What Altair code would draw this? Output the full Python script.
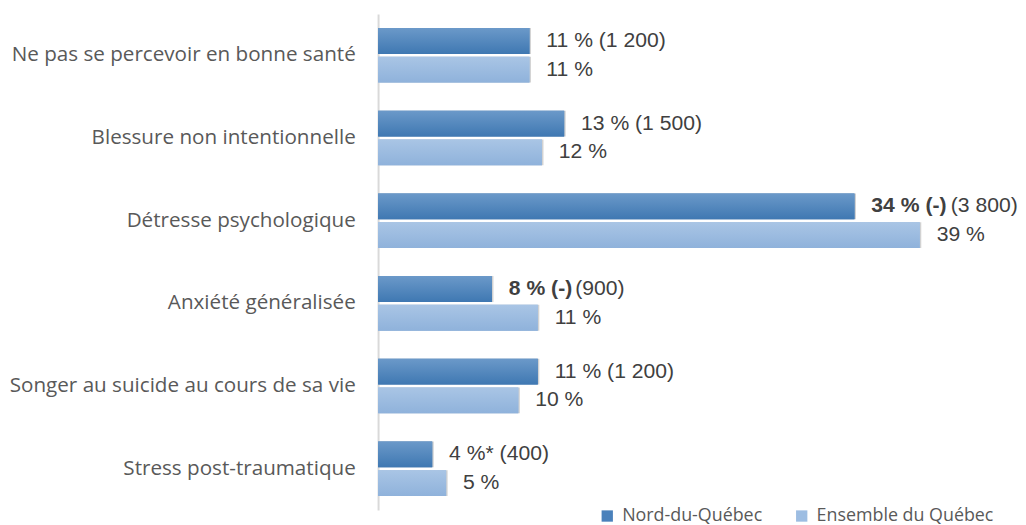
import altair as alt
import pandas as pd

categories = [
    "Ne pas se percevoir en bonne santé",
    "Blessure non intentionnelle",
    "Détresse psychologique",
    "Anxiété généralisée",
    "Songer au suicide au cours de sa vie",
    "Stress post-traumatique",
]
series = ["Nord-du-Québec", "Ensemble du Québec"]
nord_values = [10.9, 13.4, 34.3, 8.2, 11.5, 3.9]
quebec_values = [10.9, 11.8, 39.0, 11.5, 10.1, 4.9]
nord_bold = ["", "", "34 % (-)", "8 % (-)", "", ""]
nord_plain = ["11 % (1 200)", "13 % (1 500)", "(3 800)", "(900)", "11 % (1 200)", "4 %* (400)"]
quebec_labels = ["11 %", "12 %", "39 %", "11 %", "10 %", "5 %"]

rows = []
for i, c in enumerate(categories):
    rows.append({"cat": c, "serie": series[0], "value": nord_values[i],
                 "bold": nord_bold[i], "plain": nord_plain[i]})
    rows.append({"cat": c, "serie": series[1], "value": quebec_values[i],
                 "bold": "", "plain": quebec_labels[i]})
df = pd.DataFrame(rows)

DARK = "#4a81bb"
LIGHT = "#9dbde2"
dark_grad = alt.Gradient(gradient="linear", x1=0, x2=0, y1=0, y2=1,
                         stops=[alt.GradientStop(color="#6b99c9", offset=0),
                                alt.GradientStop(color="#3f78b2", offset=1)])
light_grad = alt.Gradient(gradient="linear", x1=0, x2=0, y1=0, y2=1,
                          stops=[alt.GradientStop(color="#a9c5e5", offset=0),
                                 alt.GradientStop(color="#8fb2db", offset=1)])

y_enc = alt.Y("cat:N", sort=categories, title=None,
              scale=alt.Scale(paddingInner=0.34, paddingOuter=0.17),
              axis=alt.Axis(ticks=False, labelPadding=23, labelFont="Open Sans",
                            labelFontSize=20.8, labelColor="#595959", labelLimit=400,
                            domainColor="#d9d9d9", domainWidth=2, grid=False))
yoff = alt.YOffset("serie:N", sort=series, scale=alt.Scale(paddingInner=0.1))
x_enc = alt.X("value:Q", scale=alt.Scale(domain=[0, 45], nice=False), axis=None)

base = alt.Chart(df)

shadow = base.mark_bar(color="#7f7f7f", opacity=0.35, xOffset=1.5, yOffset=2.5).encode(
    x=x_enc, y=y_enc, yOffset=yoff)

bars = base.mark_bar().encode(
    x=x_enc, y=y_enc, yOffset=yoff,
    color=alt.Color("serie:N", sort=series, title=None,
                    scale=alt.Scale(domain=series, range=[DARK, LIGHT]),
                    legend=alt.Legend(orient="none", legendX=222, legendY=497,
                                      direction="horizontal", symbolType="square",
                                      symbolSize=130, symbolStrokeWidth=0,
                                      labelFont="Open Sans", labelFontSize=18,
                                      labelColor="#595959", columnPadding=30,
                                      labelLimit=300, labelOffset=6, padding=0)))

grad_nord = base.transform_filter(alt.datum.serie == series[0]).mark_bar(color=dark_grad).encode(
    x=x_enc, y=y_enc, yOffset=yoff)
grad_qc = base.transform_filter(alt.datum.serie == series[1]).mark_bar(color=light_grad).encode(
    x=x_enc, y=y_enc, yOffset=yoff)

txt = dict(font="Liberation Sans", fontSize=21.3, color="#404040", baseline="middle", align="left")

plain_lbl = base.transform_filter(alt.datum.bold == "").mark_text(dx=17, **txt).encode(
    x=x_enc, y=y_enc, yOffset=yoff, text="plain:N")
bold_lbl = base.transform_filter(alt.datum.bold != "").mark_text(dx=17, fontWeight="bold", **txt).encode(
    x=x_enc, y=y_enc, yOffset=yoff, text="bold:N")
suffix1 = base.transform_filter(alt.datum.cat == categories[2]).transform_filter(
    alt.datum.bold != "").mark_text(dx=97, **txt).encode(
    x=x_enc, y=y_enc, yOffset=yoff, text="plain:N")
suffix2 = base.transform_filter(alt.datum.cat == categories[3]).transform_filter(
    alt.datum.bold != "").mark_text(dx=84, **txt).encode(
    x=x_enc, y=y_enc, yOffset=yoff, text="plain:N")

chart = alt.layer(shadow, bars, grad_nord, grad_qc, plain_lbl, bold_lbl, suffix1, suffix2).properties(
    width=630, height=500, background="white",
    autosize=alt.AutoSizeParams(type="none"),
    padding={"left": 373, "top": 4, "right": 15, "bottom": 13},
).configure_view(strokeWidth=0, stroke="transparent")

chart.save("out.html", embed_options={"renderer": "svg", "actions": False})
